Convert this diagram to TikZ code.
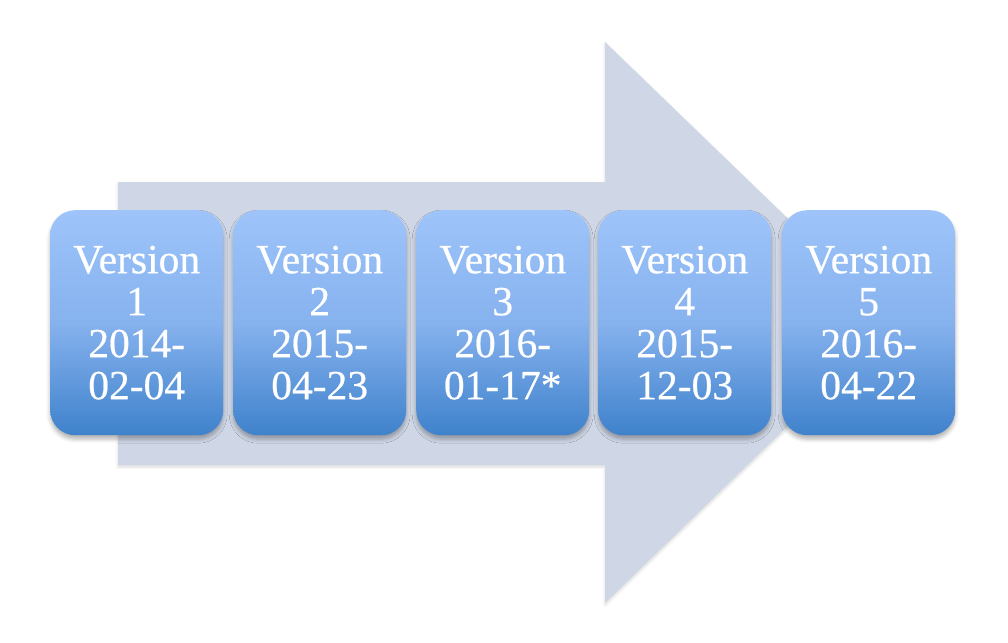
\documentclass[tikz,border=0pt]{standalone}
\usepackage{fontspec}
\newfontfamily\boxfont{Liberation Serif}[FakeBold=0.5]
\usetikzlibrary{shadows.blur}
\definecolor{arrowfill}{HTML}{CFD7E6}
\definecolor{boxtop}{HTML}{9EC4FA}
\definecolor{boxmid}{HTML}{86B2EE}
\definecolor{boxbot}{HTML}{3F82CC}
\tikzset{
  verbox/.style={rounded corners=25pt, minimum width=173pt, minimum height=225pt,
    inner sep=0pt, anchor=north west, top color=boxtop, bottom color=boxbot, middle color=boxmid,
    blur shadow={shadow xshift=0pt, shadow yshift=-4pt, shadow blur radius=4pt, shadow opacity=30},
    text=white, align=center, font=\boxfont\fontsize{41.5}{42}\selectfont},
}
\begin{document}
\begin{tikzpicture}[x=1pt,y=-1pt]
\useasboundingbox (0,0) rectangle (1008,642);
\fill[arrowfill, blur shadow={shadow xshift=0pt, shadow yshift=-2pt, shadow blur radius=3pt, shadow opacity=15}]
  (118,182) -- (605,182) -- (605,42) -- (895,322) -- (605,603) -- (605,465) -- (118,465) -- cycle;
\node[verbox] (v1) at (50,210) {Version\\1\\2014-\\02-04};
\node[verbox] (v2) at (233,210) {Version\\2\\2015-\\04-23};
\node[verbox] (v3) at (416,210) {Version\\3\\2016-\\01-17*};
\node[verbox] (v4) at (598,210) {Version\\4\\2015-\\12-03};
\node[verbox] (v5) at (782,210) {Version\\5\\2016-\\04-22};
\end{tikzpicture}
\end{document}
